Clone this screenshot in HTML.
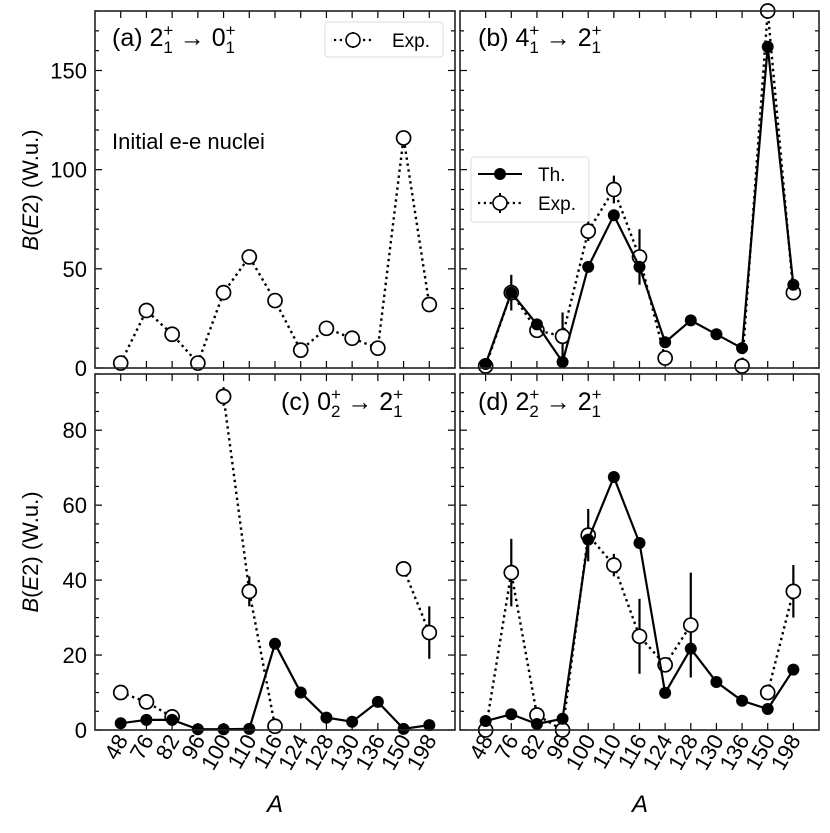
<!DOCTYPE html>
<html><head><meta charset="utf-8"><style>
body{margin:0;background:#fff}
svg text{font-family:"Liberation Sans",Arial,sans-serif;fill:#000}
</style></head><body>
<svg id="chart" width="830" height="828" viewBox="0 0 830 828" xmlns="http://www.w3.org/2000/svg"></svg>
<script>
const categories=["48","76","82","96","100","110","116","124","128","130","136","150","198"];
const aExp=[2.5,29,17,2.5,38,56,34,9,20,15,10,116,32];
const aExpErr=[0,0,0,0,0,0,0,0,0,0,0,0,0];
const bTh=[2,38,22,3,51,77,51,13,24,17,10,162,42];
const bExp=[1,38,19,16,69,90,56,5,null,null,1,180,38];
const bExpErr=[0,9,0,12,5,7,14,0,0,0,0,0,0];
const cTh=[1.8,2.7,2.7,0.2,0.2,0.3,23,10,3.3,2.2,7.5,0.3,1.3];
const cExp=[10,7.5,3.5,null,89,37,1,null,null,null,null,43,26];
const cExpErr=[0,0,0,0,2.5,4,0,0,0,0,0,1.5,7];
const dTh=[2.4,4.2,1.6,3,50.8,67.5,49.9,9.9,21.7,12.8,7.8,5.6,16.1];
const dExp=[0,42,4,0,52,44,25,17.4,28,null,null,10,37];
const dExpErr=[0,9,0,0,7,3,10,0,14,0,0,2,7];
const topTicks=[0,50,100,150];
const botTicks=[0,20,40,60,80];

const NS="http://www.w3.org/2000/svg";
const svg=document.getElementById('chart');
function el(tag,attrs,parent){const e=document.createElementNS(NS,tag);for(const k in attrs)e.setAttribute(k,attrs[k]);(parent||svg).appendChild(e);return e;}

const panels=[
 {id:'a',x0:95,x1:455,y0:11,y1:368,ymax:180,ticks:topTicks,minor:10,th:null,exp:aExp,err:aExpErr,left:true,bottom:false},
 {id:'b',x0:460,x1:819,y0:11,y1:368,ymax:180,ticks:topTicks,minor:10,th:bTh,exp:bExp,err:bExpErr,left:false,bottom:false},
 {id:'c',x0:95,x1:455,y0:374,y1:730,ymax:95,ticks:botTicks,minor:5,th:cTh,exp:cExp,err:cExpErr,left:true,bottom:true},
 {id:'d',x0:460,x1:819,y0:374,y1:730,ymax:95,ticks:botTicks,minor:5,th:dTh,exp:dExp,err:dExpErr,left:false,bottom:true}
];

panels.forEach(p=>{
 const g=el('g',{});
 
 
 const xs=i=>p.x0+(i+1)*(p.x1-p.x0)/14;
 const ys=v=>p.y1-v*(p.y1-p.y0)/p.ymax;
 for(let v=0;v<=p.ymax;v+=p.minor){
  const major=p.ticks.includes(v);const L=major?7:4;
  el('line',{x1:p.x0,x2:p.x0+L,y1:ys(v),y2:ys(v),stroke:'#000','stroke-width':1.2},g);
  el('line',{x1:p.x1,x2:p.x1-L,y1:ys(v),y2:ys(v),stroke:'#000','stroke-width':1.2},g);
 }
 if(p.left){p.ticks.forEach(v=>{const t=el('text',{x:p.x0-8,y:ys(v)+8,'text-anchor':'end','font-size':22},g);t.textContent=v;
  });}
 categories.forEach((c,i)=>{
  el('line',{x1:xs(i),x2:xs(i),y1:p.y1,y2:p.y1-7,stroke:'#000','stroke-width':1.2},g);
  el('line',{x1:xs(i),x2:xs(i),y1:p.y0,y2:p.y0+7,stroke:'#000','stroke-width':1.2},g);
  if(p.bottom){const t=el('text',{'font-size':22,'text-anchor':'end',transform:`translate(${xs(i)+8},${p.y1+10}) rotate(-60)`},g);t.textContent=c;
   }
 });
 const expG=el('g',{},g);
 
 
 let seg=[];const segs=[];
 p.exp.forEach((v,i)=>{if(v==null){if(seg.length)segs.push(seg);seg=[];}else seg.push([xs(i),ys(Math.min(v,p.ymax))]);});
 if(seg.length)segs.push(seg);
 segs.forEach(s=>el('polyline',{points:s.map(q=>q.join(',')).join(' '),fill:'none',stroke:'#000','stroke-width':2.4,'stroke-dasharray':'2.4,3.6'},expG));
 if(p.th){
  const thG=el('g',{},g);
  
  
  el('polyline',{points:p.th.map((v,i)=>xs(i)+','+ys(v)).join(' '),fill:'none',stroke:'#000','stroke-width':2.2},thG);
  p.th.forEach((v,i)=>{const c=el('circle',{cx:xs(i),cy:ys(v),r:6,fill:'#000'},thG);
   });
 }
 p.exp.forEach((v,i)=>{if(v==null)return;const e=p.err[i];
  if(e>0)el('line',{x1:xs(i),x2:xs(i),y1:ys(Math.min(v+e,p.ymax)),y2:ys(Math.max(v-e,0)),stroke:'#000','stroke-width':2.2},expG);
  const c=el('circle',{cx:xs(i),cy:ys(Math.min(v,p.ymax)),r:7,fill:'#fff',stroke:'#000','stroke-width':1.7},expG);
  
 });
 const fr=el('rect',{x:p.x0,y:p.y0,width:p.x1-p.x0,height:p.y1-p.y0,fill:'none',stroke:'#222','stroke-width':1.6},g);
 
});

function title(x,y,letter,a,as,b,bs,name){
 const t=el('text',{x:x,y:y,'font-size':25});
 
 t.innerHTML=`(${letter}) ${a}<tspan font-size="17" dy="-10">+</tspan><tspan font-size="17" dx="-10" dy="17">${as}</tspan><tspan dy="-7"> → ${b}</tspan><tspan font-size="17" dy="-10">+</tspan><tspan font-size="17" dx="-10" dy="17">${bs}</tspan>`;
}
title(112,46,'a','2','1','0','1','title-a');
title(478,46,'b','4','1','2','1','title-b');
title(281,410,'c','0','2','2','1','title-c');
title(478,410,'d','2','2','2','1','title-d');

const ini=el('text',{x:112,y:149,'font-size':22});ini.textContent='Initial e-e nuclei';


const la=el('g',{});
el('rect',{x:325,y:22,width:118,height:35,rx:3,fill:'#fff',stroke:'#ddd'},la);
el('line',{x1:334,x2:372,y1:40,y2:40,stroke:'#000','stroke-width':2.2,'stroke-dasharray':'2.2,3.6'},la);
el('line',{x1:353,x2:353,y1:32,y2:48,stroke:'#000','stroke-width':2},la);
el('circle',{cx:353,cy:40,r:7,fill:'#fff',stroke:'#000','stroke-width':1.6},la);
const lt=el('text',{x:392,y:47,'font-size':19},la);lt.textContent='Exp.';
const lb=el('g',{});
el('rect',{x:471,y:157,width:118,height:65,rx:3,fill:'#fff',stroke:'#ddd'},lb);
el('line',{x1:478,x2:522,y1:174,y2:174,stroke:'#000','stroke-width':2},lb);
el('circle',{cx:500,cy:174,r:6,fill:'#000'},lb);
const t1=el('text',{x:538,y:181,'font-size':19},lb);t1.textContent='Th.';
el('line',{x1:478,x2:522,y1:203,y2:203,stroke:'#000','stroke-width':2.2,'stroke-dasharray':'2.2,3.6'},lb);
el('line',{x1:500,x2:500,y1:193,y2:213,stroke:'#000','stroke-width':2},lb);
el('circle',{cx:500,cy:203,r:7,fill:'#fff',stroke:'#000','stroke-width':1.6},lb);
const t2=el('text',{x:538,y:210,'font-size':19},lb);t2.textContent='Exp.';

function ylab(cy,name){const t=el('text',{'font-size':22,'text-anchor':'middle',transform:`translate(38,${cy}) rotate(-90)`});
 t.innerHTML='<tspan font-style="italic">B</tspan>(<tspan font-style="italic">E</tspan>2) (W.u.)';
 }
ylab(190,'y-axis-title-top');ylab(552,'y-axis-title-bottom');
[275,640].forEach((x,k)=>{const t=el('text',{x:x,y:812,'font-size':24,'font-style':'italic','text-anchor':'middle'});t.textContent='A';
 });
</script>
</body></html>
